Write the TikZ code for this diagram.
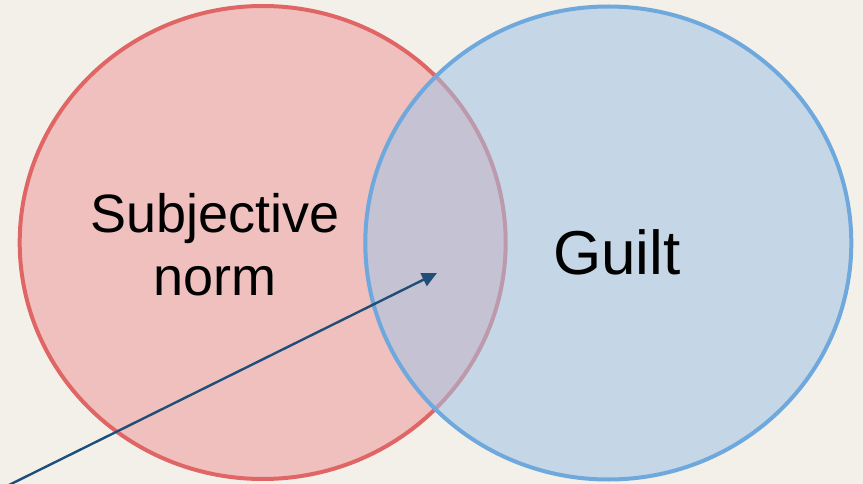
\documentclass[tikz,border=0pt]{standalone}
\usepackage{fontspec}
\setmainfont{Liberation Sans}
\usetikzlibrary{arrows.meta}
\definecolor{bgc}{RGB}{243,240,234}
\definecolor{redfill}{RGB}{239,192,190}
\definecolor{redline}{RGB}{224,102,102}
\definecolor{bluefill}{RGB}{161,196,230}
\definecolor{blueline}{RGB}{111,168,220}
\definecolor{arrowc}{RGB}{31,78,121}
\tikzset{
  setlabel/.style={anchor=base, inner sep=0pt, text=black},
  pointer/.style={draw=arrowc, line width=2.4pt, -{Triangle[length=15pt,width=14pt]}}
}
\begin{document}
\begin{tikzpicture}[x=1pt,y=-1pt]
\fill[bgc] (0,0) rectangle (863,484);
\useasboundingbox (0,0) rectangle (863,484);
\coordinate (rc) at (262.7,242.5);
\coordinate (bc) at (608.3,243);
% red set
\fill[redfill] (rc) ellipse [x radius=243, y radius=236.5];
\draw[redline, line width=4pt] (rc) ellipse [x radius=243, y radius=236.5];
% blue set
\fill[bluefill, fill opacity=0.55] (bc) ellipse [x radius=243, y radius=236.5];
\draw[blueline, line width=4pt] (bc) ellipse [x radius=243, y radius=236.5];
% labels
\node[setlabel, font=\fontsize{54}{62}\selectfont] (subj) at (215,233) {Subjective};
\node[setlabel, font=\fontsize{54}{62}\selectfont] (norm) at (215,295) {norm};
\node[setlabel, font=\fontsize{62}{70}\selectfont] (guilt) at (617,274) {Guilt};
% arrow
\coordinate (start) at (9,485);
\coordinate (tip) at (437,273);
\draw[pointer] (start) -- (tip);
\end{tikzpicture}
\end{document}
